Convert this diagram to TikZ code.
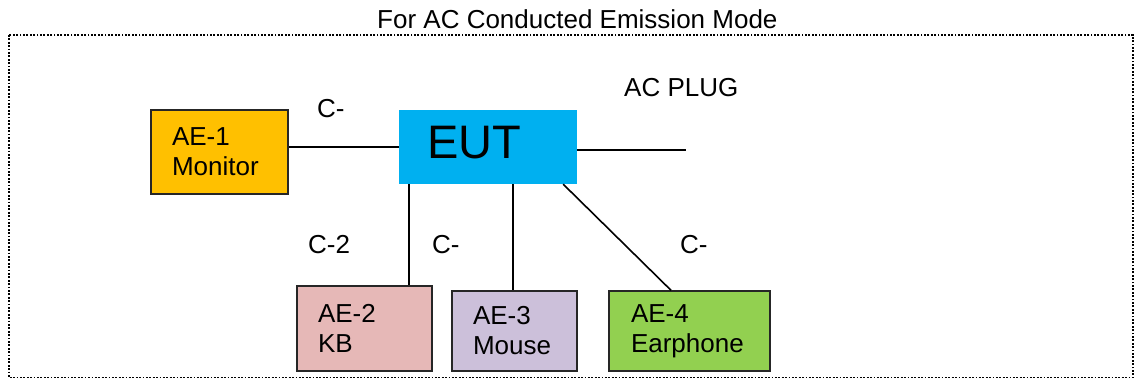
\documentclass[tikz,border=0pt]{standalone}
\usepackage{fontspec}
\setmainfont{Liberation Sans}
\usepackage{xcolor}
\usepackage{tikz}

\definecolor{monitorc}{HTML}{FFC000}
\definecolor{eutc}{HTML}{00B0F0}
\definecolor{kbc}{HTML}{E6B8B7}
\definecolor{mousec}{HTML}{CCC0DA}
\definecolor{earc}{HTML}{92D050}

\begin{document}
\begin{tikzpicture}[x=1pt, y=-1pt,
    font=\fontsize{26}{30}\selectfont,
    aebox/.style = {draw=black!85, line width=1.4pt, align=left, inner xsep=21pt,
                    inner ysep=0pt, minimum height=#1},
    cable/.style = {line width=1.6pt},
    lbl/.style   = {anchor=base west, inner sep=0pt}]
    \useasboundingbox (0,0) rectangle (1134,381);
    \draw[line width=1.8pt, dash pattern=on 1.8pt off 1.6pt] (9,35) rectangle (1133,377.5);
    \node[lbl] (title) at (377,28) {For AC Conducted Emission Mode};

    \node[aebox=84pt, fill=monitorc, text width=95pt] (mon) at (219.5,152) {AE-1\\Monitor};
    \node[fill=eutc, inner ysep=0pt, inner xsep=28pt, text width=122pt, align=left,
          text height=48pt, text depth=26pt, font=\fontsize{47}{50}\selectfont]
          (eut) at (488,147) {EUT};
    \node[aebox=85pt, fill=kbc, text width=93pt] (kb) at (364.5,328.5) {AE-2\\KB};
    \node[aebox=80pt, fill=mousec, text width=83pt] (mouse) at (514.5,331) {AE-3\\Mouse};
    \node[aebox=80pt, fill=earc, inner xsep=22pt, text width=117pt] (ear) at (689.5,331) {AE-4\\Earphone};

    \coordinate (plug) at (686,150);
    \node[lbl] (plugtxt) at (624,96) {AC PLUG};

    % cables
    \draw[cable] (mon.east |- eut.west) -- (eut.west);
    \draw[cable] (eut.east |- plug) -- (plug);
    \draw[cable] ([xshift=10pt]eut.south west) -- ([xshift=10pt]eut.south west |- kb.north);
    \draw[cable] ([xshift=-1.5pt]mouse.north |- eut.south) -- ([xshift=-1.5pt]mouse.north);
    \draw[cable] ([xshift=-14pt]eut.south east) -- ([xshift=-18.5pt]ear.north);

    \node[lbl] (c1) at (317,117) {C-};
    \node[lbl] (c2) at (308,253) {C-2};
    \node[lbl] (c3) at (432,253) {C-};
    \node[lbl] (c4) at (680,253) {C-};
\end{tikzpicture}
\end{document}
